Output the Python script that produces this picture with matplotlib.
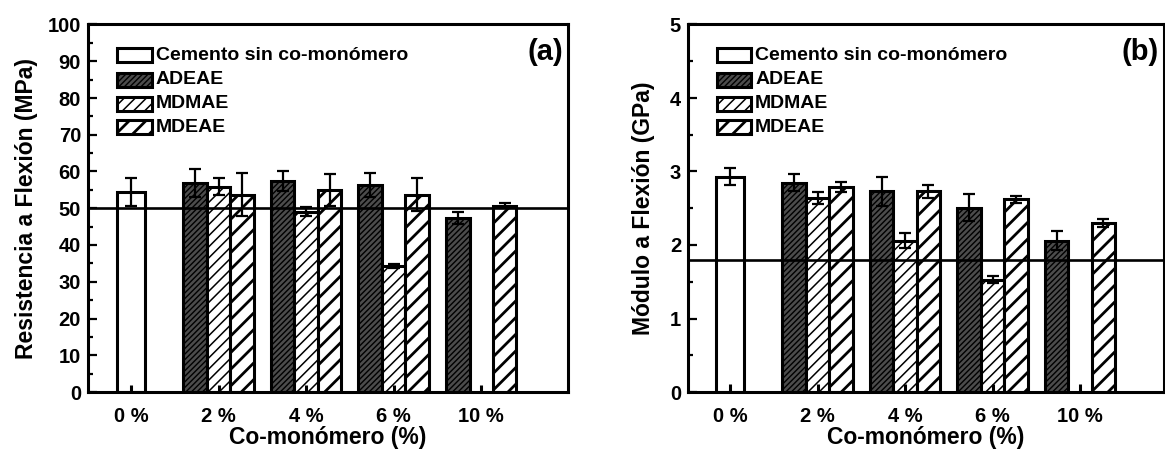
import numpy as np
import matplotlib
matplotlib.use("Agg")
import matplotlib.pyplot as plt
import matplotlib.patches as mpatches
from matplotlib.ticker import MultipleLocator

plt.rcParams['font.family'] = ['Liberation Sans', 'DejaVu Sans']
plt.rcParams['font.weight'] = 'bold'
plt.rcParams['axes.labelweight'] = 'bold'

# ---------------- data ----------------
groups = ['0 %', '2 %', '4 %', '6 %', '10 %']
series = ['Cemento sin co-monómero', 'ADEAE', 'MDMAE', 'MDEAE']

# (a) Resistencia a flexión (MPa)
cement_res = 54.5
cement_res_err = 3.8
adeae_res = [np.nan, 56.8, 57.3, 56.4, 47.3]
adeae_res_err = [np.nan, 3.8, 2.7, 3.3, 1.7]
mdmae_res = [np.nan, 55.8, 49.1, 34.3, np.nan]
mdmae_res_err = [np.nan, 2.3, 1.2, 0.6, np.nan]
mdeae_res = [np.nan, 53.7, 54.9, 53.7, 50.7]
mdeae_res_err = [np.nan, 5.9, 4.3, 4.4, 0.7]
stub_res = [2.0, 2.0, 2.0, 2.0, 2.0]
ref_res = 50

# (b) Módulo a flexión (GPa)
cement_mod = 2.93
cement_mod_err = 0.12
adeae_mod = [np.nan, 2.85, 2.73, 2.51, 2.06]
adeae_mod_err = [np.nan, 0.12, 0.20, 0.18, 0.13]
mdmae_mod = [np.nan, 2.64, 2.06, 1.53, np.nan]
mdmae_mod_err = [np.nan, 0.08, 0.10, 0.05, np.nan]
mdeae_mod = [np.nan, 2.79, 2.73, 2.62, 2.30]
mdeae_mod_err = [np.nan, 0.07, 0.09, 0.05, 0.06]
stub_mod = [0.11, 0.11, 0.11, 0.11, 0.11]
ref_mod = 1.8

# ---------------- styles ----------------
W = 0.268
W0 = 0.32
EDGE_LW = 2.2
styles = {
    'Cemento sin co-monómero': dict(face='white', hatch=None, hlw=1.0),
    'ADEAE': dict(face='#4c4c4c', hatch='//////', hlw=1.0),
    'MDMAE': dict(face='white', hatch='///', hlw=1.1),
    'MDEAE': dict(face='white', hatch='//', hlw=2.0),
}

fig = plt.figure(figsize=(11.65, 4.61), dpi=100)
FW, FH = 1165.0, 461.0
bottom = 1 - 392 / FH
height = 367.5 / FH
ax1 = fig.add_axes([88 / FW, bottom, 480 / FW, height])
ax2 = fig.add_axes([688 / FW, bottom, 476 / FW, height])


def draw_bars(ax, x, vals, errs, name, width):
    st = styles[name]
    with plt.rc_context({'hatch.linewidth': st['hlw']}):
        ax.bar(x, vals, width=width, color=st['face'], edgecolor='black',
               linewidth=EDGE_LW, hatch=st['hatch'], zorder=2)
    ax.errorbar(x, vals, yerr=errs, fmt='none', ecolor='black',
                elinewidth=1.6, capsize=4, capthick=1.6, zorder=4)


def panel(ax, cement, cement_err, adeae, adeae_err, mdmae, mdmae_err,
          mdeae, mdeae_err, stub, ref, ymax, major, minor, ylabel, tag,
          xlim, ylabx):
    x = np.arange(len(groups))
    draw_bars(ax, [x[0]], [cement], [cement_err], series[0], W0)
    draw_bars(ax, x - W, adeae, adeae_err, 'ADEAE', W)
    draw_bars(ax, x, mdmae, mdmae_err, 'MDMAE', W)
    draw_bars(ax, x + W, mdeae, mdeae_err, 'MDEAE', W)
    ax.errorbar(x, np.zeros(len(x)), yerr=[np.zeros(len(x)), stub],
                fmt='none', ecolor='black', elinewidth=2.2, capsize=0,
                zorder=4)
    ax.axhline(ref, color='black', lw=1.9, zorder=3)

    ax.set_xlim(*xlim)
    ax.set_ylim(0, ymax)
    ax.set_xticks(x)
    ax.set_xticklabels(groups, fontsize=14.5, fontweight='bold')
    ax.tick_params(axis='x', length=0, pad=11)
    ax.yaxis.set_major_locator(MultipleLocator(major))
    ax.yaxis.set_minor_locator(MultipleLocator(minor))
    ax.tick_params(axis='y', which='major', direction='in', length=6.5,
                   width=1.6, labelsize=14.5, pad=5)
    ax.tick_params(axis='y', which='minor', direction='in', length=3.5,
                   width=1.6)
    for lab in ax.get_yticklabels():
        lab.set_fontweight('bold')
    for sp in ax.spines.values():
        sp.set_linewidth(2.2)

    ax.set_xlabel('Co-monómero (%)', fontsize=16.5, fontweight='bold')
    ax.xaxis.set_label_coords(0.5, -0.093)
    ax.set_ylabel(ylabel, fontsize=16.5, fontweight='bold')
    ax.yaxis.set_label_coords(ylabx, 0.5)
    ax.text(0.99, 0.962, tag, transform=ax.transAxes, ha='right', va='top',
            fontsize=21, fontweight='bold')

    # legend drawn manually in axes coordinates
    hx, hw, hh = 0.060, 35 / 480, 14 / 367.5
    row_y = [55, 80, 104, 127.5]
    for name, ry in zip(series, row_y):
        yc = (392 - ry) / 367.5
        st = styles[name]
        with plt.rc_context({'hatch.linewidth': st['hlw']}):
            p = mpatches.Rectangle((hx, yc - hh / 2), hw, hh,
                                   transform=ax.transAxes,
                                   facecolor=st['face'], edgecolor='black',
                                   linewidth=EDGE_LW, hatch=st['hatch'],
                                   zorder=5, clip_on=False)
        ax.add_patch(p)
        ax.text(hx + hw + 0.008, yc, name, transform=ax.transAxes,
                ha='left', va='center', fontsize=14, fontweight='bold',
                zorder=5)


panel(ax1, cement_res, cement_res_err, adeae_res, adeae_res_err, mdmae_res,
      mdmae_res_err, mdeae_res, mdeae_res_err, stub_res, ref_res,
      100, 10, 5, 'Resistencia a Flexión (MPa)', '(a)', (-0.49, 4.99), -0.105)
panel(ax2, cement_mod, cement_mod_err, adeae_mod, adeae_mod_err, mdmae_mod,
      mdmae_mod_err, mdeae_mod, mdeae_mod_err, stub_mod, ref_mod,
      5, 1, 0.5, 'Módulo a Flexión (GPa)', '(b)', (-0.48, 4.96), -0.07)

fig.savefig('out.png', dpi=100)
